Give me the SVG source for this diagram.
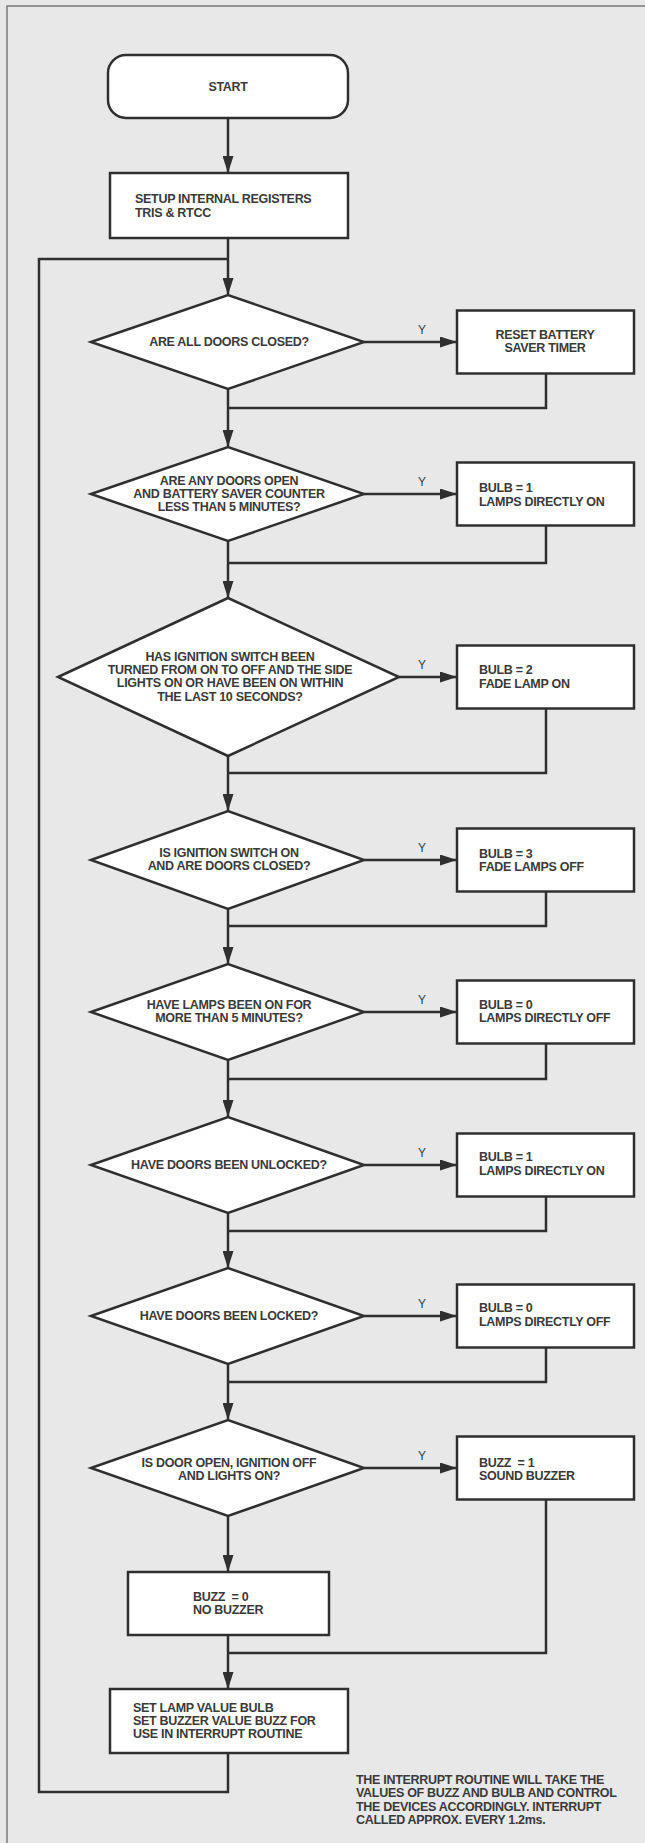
<svg xmlns="http://www.w3.org/2000/svg" width="645" height="1843" viewBox="0 0 645 1843">
<defs>
<marker id="ah" viewBox="0 0 17 11" refX="17" refY="5.5" markerWidth="17" markerHeight="11" markerUnits="userSpaceOnUse" orient="auto"><path d="M0,0 L17,5.5 L0,11 z" fill="#2f2f2f"/></marker>
<style>
.bg{fill:#e8e8e8}
.frame{fill:none;stroke:#7a7a7a;stroke-width:1.5}
.n{fill:#fff;stroke:#2f2f2f;stroke-width:2.5}
.c{fill:none;stroke:#2f2f2f;stroke-width:2.5}
.a{fill:none;stroke:#2f2f2f;stroke-width:2.5;marker-end:url(#ah)}
text{font-family:"Liberation Sans",Arial,sans-serif;font-size:12.5px;font-weight:bold;fill:#3a3a3a;letter-spacing:-0.3px;white-space:pre}
.m{text-anchor:middle}
.y{font-weight:normal;font-size:12px;letter-spacing:0}
</style>
</defs>
<rect class="bg" x="0" y="0" width="645" height="1843"/>
<path class="frame" d="M7,1843 V6 H645"/>

<g id="connectors">
<line class="a" x1="228" y1="118" x2="228" y2="173"/>
<line class="a" x1="228" y1="238" x2="228" y2="295"/>
<path class="c" d="M228,259 H39 V1792 H228 V1753"/>
<line class="a" x1="364" y1="342" x2="457" y2="342"/>
<line class="a" x1="364" y1="494" x2="457" y2="494"/>
<line class="a" x1="399" y1="677" x2="457" y2="677"/>
<line class="a" x1="364" y1="860" x2="457" y2="860"/>
<line class="a" x1="364" y1="1012" x2="457" y2="1012"/>
<line class="a" x1="364" y1="1165" x2="457" y2="1165"/>
<line class="a" x1="364" y1="1316" x2="457" y2="1316"/>
<line class="a" x1="364" y1="1468" x2="457" y2="1468"/>
<line class="a" x1="228" y1="389" x2="228" y2="447"/>
<line class="a" x1="228" y1="541" x2="228" y2="598"/>
<line class="a" x1="228" y1="756" x2="228" y2="811"/>
<line class="a" x1="228" y1="909" x2="228" y2="964"/>
<line class="a" x1="228" y1="1060" x2="228" y2="1117"/>
<line class="a" x1="228" y1="1213" x2="228" y2="1268"/>
<line class="a" x1="228" y1="1364" x2="228" y2="1420"/>
<line class="a" x1="228" y1="1516" x2="228" y2="1572"/>
<line class="a" x1="228" y1="1635" x2="228" y2="1689"/>
<path class="c" d="M546,373.5 V408 H228"/>
<path class="c" d="M546,525.5 V563 H228"/>
<path class="c" d="M546,708.5 V773 H228"/>
<path class="c" d="M546,891.5 V926 H228"/>
<path class="c" d="M546,1043.5 V1079 H228"/>
<path class="c" d="M546,1196.5 V1231 H228"/>
<path class="c" d="M546,1347.5 V1382 H228"/>
<path class="c" d="M546,1499.5 V1653 H228"/>
<text class="y" x="418" y="334">Y</text>
<text class="y" x="418" y="486">Y</text>
<text class="y" x="418" y="669">Y</text>
<text class="y" x="418" y="852">Y</text>
<text class="y" x="418" y="1004">Y</text>
<text class="y" x="418" y="1157">Y</text>
<text class="y" x="418" y="1308">Y</text>
<text class="y" x="418" y="1460">Y</text>
</g>

<g id="start">
<rect class="n" x="108" y="55" width="240" height="63" rx="18"/>
<text class="m" x="228" y="91">START</text>
</g>
<g id="setup">
<rect class="n" x="110" y="173" width="238" height="65"/>
<text x="135" y="203">SETUP INTERNAL REGISTERS</text>
<text x="135" y="217">TRIS &amp; RTCC</text>
</g>

<g id="d1">
<path class="n" d="M91,342 L228,295 L364,342 L228,389 Z"/>
<text class="m" x="229" y="346">ARE ALL DOORS CLOSED?</text>
</g>
<g id="b1">
<rect class="n" x="457" y="310.5" width="177" height="63"/>
<text class="m" x="545" y="339">RESET BATTERY</text>
<text class="m" x="545" y="352">SAVER TIMER</text>
</g>

<g id="d2">
<path class="n" d="M91,494 L228,447 L364,494 L228,541 Z"/>
<text class="m" x="229" y="485">ARE ANY DOORS OPEN</text>
<text class="m" x="229" y="498">AND BATTERY SAVER COUNTER</text>
<text class="m" x="229" y="511">LESS THAN 5 MINUTES?</text>
</g>
<g id="b2">
<rect class="n" x="457" y="462.5" width="177" height="63"/>
<text x="479" y="492">BULB = 1</text>
<text x="479" y="506">LAMPS DIRECTLY ON</text>
</g>

<g id="d3">
<path class="n" d="M58,677 L228,598 L399,677 L228,756 Z"/>
<text class="m" x="230" y="661">HAS IGNITION SWITCH BEEN</text>
<text class="m" x="230" y="674">TURNED FROM ON TO OFF AND THE SIDE</text>
<text class="m" x="230" y="687">LIGHTS ON OR HAVE BEEN ON WITHIN</text>
<text class="m" x="230" y="701">THE LAST 10 SECONDS?</text>
</g>
<g id="b3">
<rect class="n" x="457" y="645.5" width="177" height="63"/>
<text x="479" y="674">BULB = 2</text>
<text x="479" y="688">FADE LAMP ON</text>
</g>

<g id="d4">
<path class="n" d="M91,860 L228,811 L364,860 L228,909 Z"/>
<text class="m" x="229" y="857">IS IGNITION SWITCH ON</text>
<text class="m" x="229" y="870">AND ARE DOORS CLOSED?</text>
</g>
<g id="b4">
<rect class="n" x="457" y="828.5" width="177" height="63"/>
<text x="479" y="858">BULB = 3</text>
<text x="479" y="871">FADE LAMPS OFF</text>
</g>

<g id="d5">
<path class="n" d="M91,1012 L228,964 L364,1012 L228,1060 Z"/>
<text class="m" x="229" y="1009">HAVE LAMPS BEEN ON FOR</text>
<text class="m" x="229" y="1022">MORE THAN 5 MINUTES?</text>
</g>
<g id="b5">
<rect class="n" x="457" y="980.5" width="177" height="63"/>
<text x="479" y="1009">BULB = 0</text>
<text x="479" y="1022">LAMPS DIRECTLY OFF</text>
</g>

<g id="d6">
<path class="n" d="M91,1165 L228,1117 L364,1165 L228,1213 Z"/>
<text class="m" x="229" y="1169">HAVE DOORS BEEN UNLOCKED?</text>
</g>
<g id="b6">
<rect class="n" x="457" y="1133.5" width="177" height="63"/>
<text x="479" y="1161">BULB = 1</text>
<text x="479" y="1175">LAMPS DIRECTLY ON</text>
</g>

<g id="d7">
<path class="n" d="M91,1316 L228,1268 L364,1316 L228,1364 Z"/>
<text class="m" x="229" y="1320">HAVE DOORS BEEN LOCKED?</text>
</g>
<g id="b7">
<rect class="n" x="457" y="1284.5" width="177" height="63"/>
<text x="479" y="1312">BULB = 0</text>
<text x="479" y="1326">LAMPS DIRECTLY OFF</text>
</g>

<g id="d8">
<path class="n" d="M91,1468 L228,1420 L364,1468 L228,1516 Z"/>
<text class="m" x="229" y="1467">IS DOOR OPEN, IGNITION OFF</text>
<text class="m" x="229" y="1480">AND LIGHTS ON?</text>
</g>
<g id="b8">
<rect class="n" x="457" y="1436.5" width="177" height="63"/>
<text x="479" y="1467">BUZZ  = 1</text>
<text x="479" y="1480">SOUND BUZZER</text>
</g>

<g id="buzz0">
<rect class="n" x="128" y="1572" width="201" height="63"/>
<text x="193" y="1601">BUZZ  = 0</text>
<text x="193" y="1614">NO BUZZER</text>
</g>

<g id="setlamp">
<rect class="n" x="110" y="1689" width="238" height="64"/>
<text x="133" y="1712">SET LAMP VALUE BULB</text>
<text x="133" y="1725">SET BUZZER VALUE BUZZ FOR</text>
<text x="133" y="1738">USE IN INTERRUPT ROUTINE</text>
</g>

<g id="note">
<text x="356" y="1784">THE INTERRUPT ROUTINE WILL TAKE THE</text>
<text x="356" y="1797">VALUES OF BUZZ AND BULB AND CONTROL</text>
<text x="356" y="1811">THE DEVICES ACCORDINGLY. INTERRUPT</text>
<text x="356" y="1824">CALLED APPROX. EVERY 1.2ms.</text>
</g>
</svg>
